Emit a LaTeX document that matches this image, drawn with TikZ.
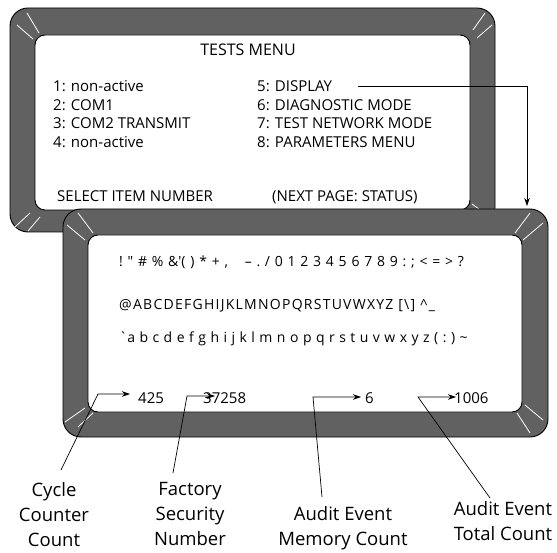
\documentclass[tikz,border=0pt]{standalone}
\usepackage{fontspec}
\setmainfont{Open Sans}
\newfontfamily\scrspacedA{Open Sans}[LetterSpace=34]
\newfontfamily\scrspacedB{Open Sans}[LetterSpace=9]
\newfontfamily\scrspacedC{Open Sans}[LetterSpace=32]
\usetikzlibrary{arrows.meta}
\definecolor{framegray}{RGB}{96,97,96}
\begin{document}
\begin{tikzpicture}[x=1pt,y=-1pt,
  framebox/.style={fill=framegray,draw=black,line width=0.9pt,rounded corners=18pt},
  screenbox/.style={fill=white,draw=black,line width=0.9pt,rounded corners=10pt},
  bevel/.style={draw=white,line width=0.8pt},
  scr/.style={font=\fontsize{15}{17}\selectfont,inner sep=0pt,anchor=base west},
  lbl/.style={font=\fontsize{18.5}{25}\selectfont,align=center,anchor=north,inner sep=0pt},
  callout/.style={draw=black,line width=0.7pt},
  tip/.style={-{Stealth[length=8pt,width=5.5pt]}}
]
\useasboundingbox (0,0) rectangle (557,553);

% ---- top frame ----
\path[framebox] (10,8) rectangle (495,232);
\path[screenbox] (35,35) rectangle (470,210);
\draw[bevel] (27,13) -- (39,33);
\draw[bevel] (17,25) -- (33,39);
\draw[bevel] (485,13) -- (473,30);
\draw[bevel] (492,25) -- (477,38);
\draw[bevel] (15,227) -- (30,213);
\draw[bevel] (28,231) -- (40,217);
\draw[bevel] (472,204) -- (479,209);

% ---- lower frame ----
\path[framebox] (63,209) rectangle (548,437);
\path[screenbox] (88,235) rectangle (522,412);
\draw[bevel] (78,213) -- (93,233);
\draw[bevel] (67,225) -- (85,240);
\draw[bevel] (530,213) -- (515,233);
\draw[bevel] (543,223) -- (523,240);
\draw[bevel] (65,422) -- (85,408);
\draw[bevel] (78,427) -- (93,413);
\draw[bevel] (517,413) -- (530,433);
\draw[bevel] (525,405) -- (543,420);

% ---- top screen text ----
\node[scr,anchor=base,font=\fontsize{16}{17}\selectfont] (title) at (248,56) {TESTS MENU};
\node[scr] (i1) at (53,92) {1: non-active};
\node[scr] (i2) at (53,110.5) {2: COM1};
\node[scr] (i3) at (53,129) {3: COM2 TRANSMIT};
\node[scr] (i4) at (53,147.5) {4: non-active};
\node[scr] (i5) at (257,92) {5: DISPLAY};
\node[scr] (i6) at (257,110.5) {6: DIAGNOSTIC MODE};
\node[scr] (i7) at (257,129) {7: TEST NETWORK MODE};
\node[scr] (i8) at (257,147.5) {8: PARAMETERS MENU};
\node[scr] (sel) at (57,202) {SELECT ITEM NUMBER};
\node[scr] (next) at (272,202) {(NEXT PAGE: STATUS)};

\coordinate (dtip) at (527,206);
\draw[callout,tip] (358,86) -| (dtip);

% ---- lower screen text ----
\node[scr,font=\fontsize{14}{17}\scrspacedA] (l1) at (119,267)
  {!"\#\%\&\textquotesingle()*+,\ \ –./0123456789:;<=>?};
\node[scr,font=\fontsize{14}{17}\scrspacedB] (l2) at (119,310)
  {@ABCDEFGHIJKLMNOPQRSTUVWXYZ [\textbackslash] \textasciicircum\_};
\node[scr,font=\fontsize{14}{17}\scrspacedC] (l3) at (119,343)
  {\textasciigrave abcdefghijklmnopqrstuvwxyz(:)\textasciitilde};

\node[scr] (v1) at (138,403) {425};
\node[scr] (v2) at (203,403) {37258};
\node[scr] (v3) at (365,403) {6};
\node[scr] (v4) at (454,403) {1006};

% ---- labels ----
\node[lbl] (cyc) at (54,482) {Cycle\\Counter\\Count};
\node[lbl] (fac) at (190,482) {Factory\\Security\\Number};
\node[lbl] (mem) at (343,506) {Audit Event\\Memory Count};
\node[lbl] (tot) at (503,501) {Audit Event\\Total Count};

\coordinate (c1a) at (61,470);  \coordinate (c1b) at (98,394);  \coordinate (c1c) at (130,394);
\coordinate (c2a) at (173,473); \coordinate (c2b) at (187,396); \coordinate (c2c) at (215,396);
\coordinate (c3a) at (322,497); \coordinate (c3b) at (313,397); \coordinate (c3c) at (361,397);
\coordinate (c4a) at (490,498); \coordinate (c4b) at (418,397); \coordinate (c4c) at (456,397);
\draw[callout,tip] (c1a) -- (c1b) -- (c1c);
\draw[callout,tip] (c2a) -- (c2b) -- (c2c);
\draw[callout,tip] (c3a) -- (c3b) -- (c3c);
\draw[callout,tip] (c4a) -- (c4b) -- (c4c);
\end{tikzpicture}
\end{document}
